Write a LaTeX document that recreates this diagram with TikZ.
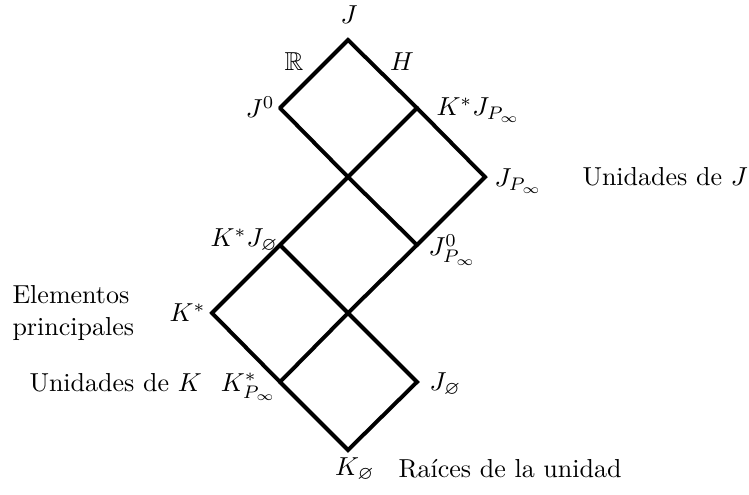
\documentclass[tikz,border=0pt]{standalone}
\usepackage{amssymb}
\begin{document}
\begin{tikzpicture}[x=0.3845pt,y=-0.3845pt,
  edge/.style={line width=1.5pt,line cap=round,line join=miter},
  lbl/.style={inner sep=0pt}]
\useasboundingbox (0,0) rectangle (749,495);
% vertices
\coordinate (J) at (348,40);
\coordinate (J0) at (280,108);
\coordinate (KJP) at (417,108);
\coordinate (C1) at (348,177);
\coordinate (JP) at (485,177);
\coordinate (KJe) at (280,245);
\coordinate (J0P) at (417,245);
\coordinate (Ks) at (212,313);
\coordinate (C2) at (348,313);
\coordinate (KP) at (280,382);
\coordinate (Je) at (417,382);
\coordinate (Ke) at (348,450);
% edges
\draw[edge] (J0) -- (J) -- (KJP) -- (JP) -- (J0P) -- (C2) -- (KP);
\draw[edge] (J0) -- (C1) -- (J0P);
\draw[edge] (KJP) -- (C1) -- (KJe) -- (Ks) -- (KP) -- (Ke) -- (Je) -- (C2) -- (KJe);
% labels
\node[lbl] (lJ) at (349,15) {$J$};
\node[lbl] (lR) at (294,62) {$\mathbb{R}$};
\node[lbl] (lH) at (402,62) {$H$};
\node[lbl,anchor=east] (lJ0) at (275,107) {$J^0$};
\node[lbl,anchor=west] (lKJP) at (436,110) {$K^*J_{P_\infty}$};
\node[lbl,anchor=west] (lJP) at (494,181) {$J_{P_\infty}$};
\node[lbl,anchor=west] (lUJ) at (582,177) {Unidades de $J$};
\node[lbl,anchor=east] (lKJe) at (279,241) {$K^*J_{\varnothing}$};
\node[lbl,anchor=west] (lJ0P) at (428,250) {$J^0_{P_\infty}$};
\node[lbl,anchor=west,align=left] (lEP) at (12,313) {Elementos\\principales};
\node[lbl,anchor=east] (lKs) at (206,313) {$K^*$};
\node[lbl,anchor=west] (lUK) at (29,383) {Unidades de $K$};
\node[lbl,anchor=east] (lKP) at (277,387) {$K^*_{P_\infty}$};
\node[lbl,anchor=west] (lJe) at (429,385) {$J_{\varnothing}$};
\node[lbl] (lKe) at (355,470) {$K_{\varnothing}$};
\node[lbl,anchor=west] (lRU) at (398,469) {Raíces de la unidad};
\end{tikzpicture}
\end{document}
